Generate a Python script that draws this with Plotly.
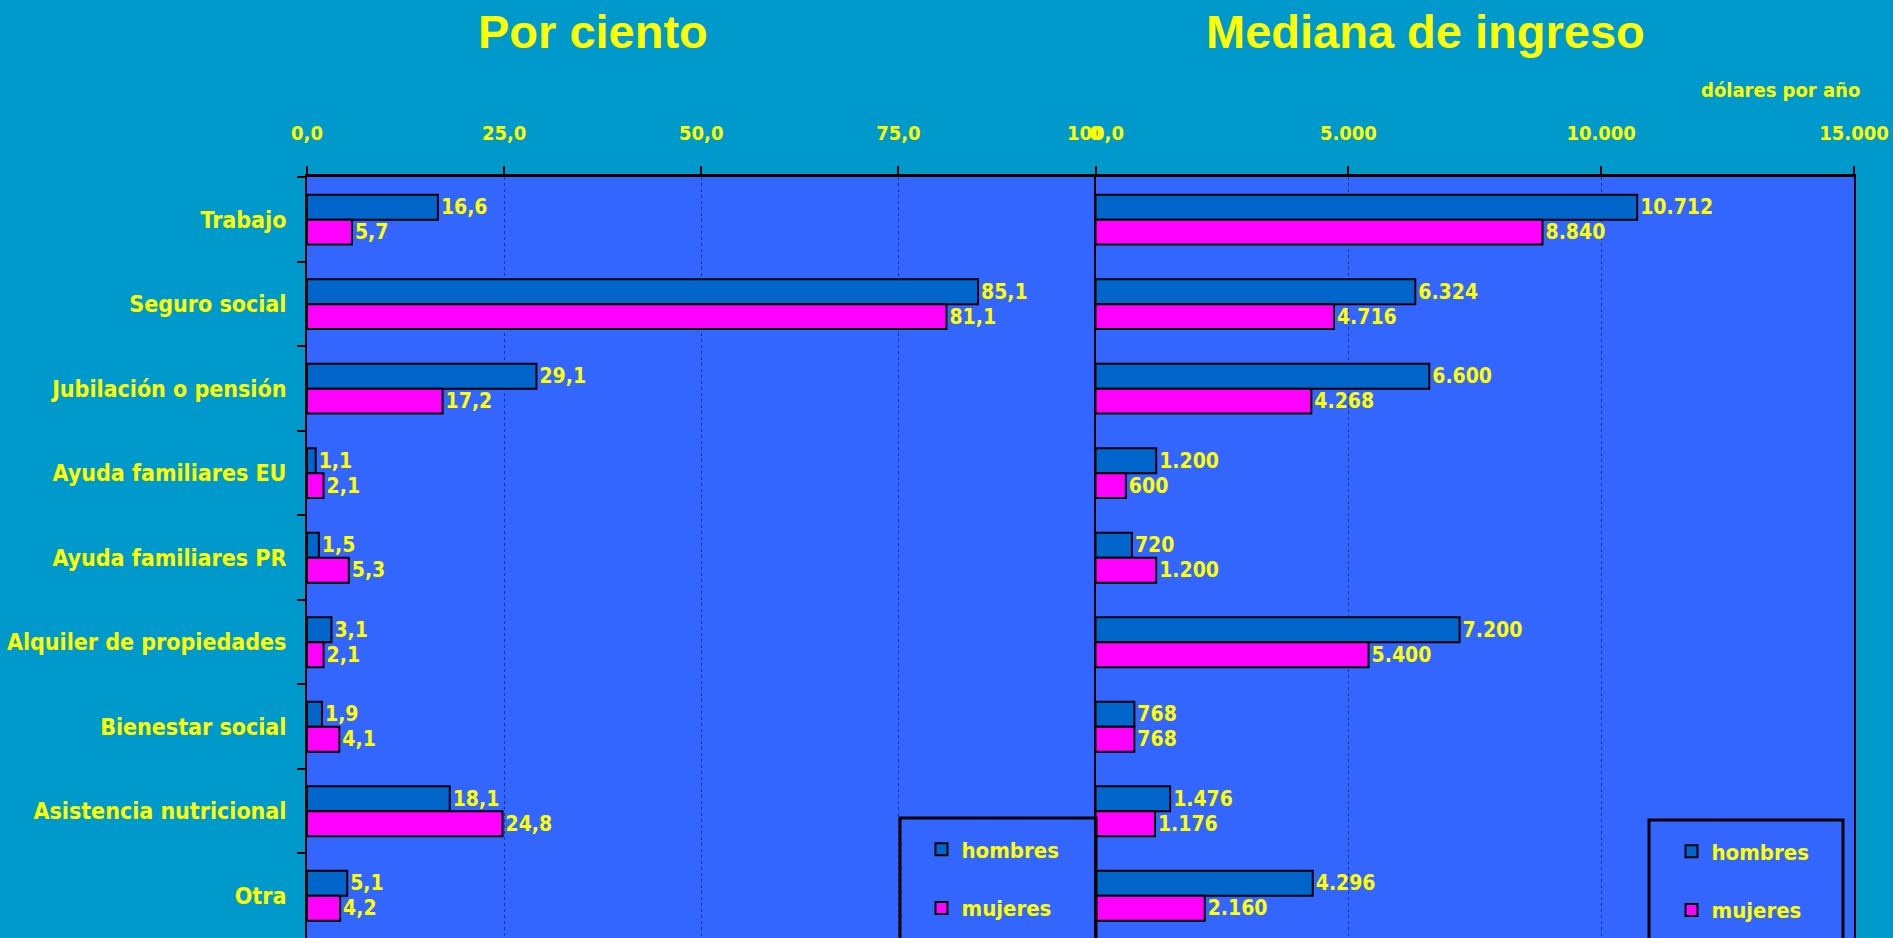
import plotly.graph_objects as go

categorias = ["Trabajo", "Seguro social", "Jubilación o pensión", "Ayuda familiares EU",
              "Ayuda familiares PR", "Alquiler de propiedades", "Bienestar social",
              "Asistencia nutricional", "Otra"]
pct_hombres = [16.6, 85.1, 29.1, 1.1, 1.5, 3.1, 1.9, 18.1, 5.1]
pct_mujeres = [5.7, 81.1, 17.2, 2.1, 5.3, 2.1, 4.1, 24.8, 4.2]
ing_hombres = [10712, 6324, 6600, 1200, 720, 7200, 768, 1476, 4296]
ing_mujeres = [8840, 4716, 4268, 600, 1200, 5400, 768, 1176, 2160]
ticks_pct = [0, 25, 50, 75, 100]
ticks_ing = [0, 5000, 10000, 15000]

W, H = 1893, 938
BG = "#0099CC"
PLOT_BG = "#3366FF"
C_H = "#0066CC"
C_M = "#FF00FF"
YEL = "#FFFF00"
NARROW = "Liberation Sans Narrow, Arial Narrow, DejaVu Sans Condensed, sans-serif"
WIDE = "Liberation Sans, Arial, sans-serif"

def px(x):
    return x / W

def py(y):
    return 1 - y / H

fig = go.Figure()

lbl_font = dict(family=NARROW, size=21, color=YEL, weight="bold")

def bar(x, name, color, fmt, xa, ya, leg, grp):
    return go.Bar(y=categorias, x=x, orientation="h", name=name,
                  marker=dict(color=color, line=dict(color="black", width=2)),
                  texttemplate=fmt, textposition="outside", textfont=lbl_font,
                  constraintext="none", cliponaxis=False,
                  xaxis=xa, yaxis=ya, legend=leg, legendgroup=grp)

fig.add_trace(bar(pct_hombres, "hombres", C_H, "%{x:.1f}", "x", "y", "legend", "h1"))
fig.add_trace(bar(pct_mujeres, "mujeres", C_M, "%{x:.1f}", "x", "y", "legend", "m1"))
fig.add_trace(bar(ing_hombres, "hombres", C_H, "%{x:,d}", "x2", "y2", "legend2", "h2"))
fig.add_trace(bar(ing_mujeres, "mujeres", C_M, "%{x:,d}", "x2", "y2", "legend2", "m2"))

tick_font = dict(family=NARROW, size=20, color=YEL, weight="bold")
ydom = [0, py(177.4)]
xd1 = [px(307), px(1095.5)]
xd2 = [px(1095.5), px(1854)]

xcommon = dict(side="top", showline=True, linecolor="black", linewidth=3,
               ticks="outside", ticklen=8, tickwidth=2, tickcolor="black",
               showgrid=True, gridcolor="#223388", griddash="dot", gridwidth=1,
               zeroline=False, tickfont=tick_font, ticklabelstandoff=18,
               automargin=False, fixedrange=True)

leg_font = dict(family=NARROW, size=22, color=YEL, weight="bold")

fig.update_layout(
    width=W, height=H,
    paper_bgcolor=BG, plot_bgcolor=PLOT_BG,
    margin=dict(l=0, r=0, t=0, b=0, autoexpand=False),
    separators=",.",
    barmode="group", bargap=0.41, bargroupgap=0,
    showlegend=True,
    xaxis=dict(domain=xd1, range=[0, 100], tickvals=ticks_pct, tickformat=".1f",
               anchor="y", **xcommon),
    xaxis2=dict(domain=xd2, range=[0, 15000], tickvals=ticks_ing, tickformat=",d",
                anchor="y2", **xcommon),
    yaxis=dict(domain=ydom, autorange="reversed", type="category",
               showline=True, linecolor="black", linewidth=2,
               ticks="outside", tickson="boundaries", ticklen=8, tickwidth=2,
               tickcolor="black", tickfont=dict(family=NARROW, size=23, color=YEL, weight="bold"),
               ticklabelstandoff=14, showgrid=False, anchor="x", automargin=False,
               fixedrange=True),
    yaxis2=dict(domain=ydom, autorange="reversed", type="category",
                showline=True, mirror=True, linecolor="black", linewidth=2,
                ticks="", showticklabels=False, showgrid=False, anchor="x2",
                automargin=False, fixedrange=True),
    legend=dict(x=px(921.5), xanchor="left", y=py(828.5), yanchor="top",
                bgcolor="rgba(0,0,0,0)", borderwidth=0, traceorder="grouped",
                tracegroupgap=27, font=leg_font),
    legend2=dict(x=px(1671.5), xanchor="left", y=py(830.5), yanchor="top",
                 bgcolor="rgba(0,0,0,0)", borderwidth=0, traceorder="grouped",
                 tracegroupgap=27, font=leg_font),
    shapes=[
        dict(type="rect", xref="paper", yref="paper", x0=px(900), x1=px(1096),
             y0=py(990), y1=py(818), line=dict(color="black", width=3), layer="above"),
        dict(type="rect", xref="paper", yref="paper", x0=px(1649), x1=px(1843),
             y0=py(990), y1=py(820), line=dict(color="black", width=3), layer="above"),
    ],
    annotations=[
        dict(text="Por ciento", xref="paper", yref="paper", x=px(593), y=py(31),
             xanchor="center", yanchor="middle", showarrow=False,
             font=dict(family=WIDE, size=47, color=YEL, weight="bold")),
        dict(text="Mediana de ingreso", xref="paper", yref="paper", x=px(1425), y=py(31),
             xanchor="center", yanchor="middle", showarrow=False,
             font=dict(family=WIDE, size=47, color=YEL, weight="bold")),
        dict(text="dólares por año", xref="paper", yref="paper", x=px(1862), y=py(90),
             xanchor="right", yanchor="middle", showarrow=False,
             font=dict(family=NARROW, size=20, color=YEL, weight="bold")),
    ],
)

fig.write_html("out.html", config={"displayModeBar": False},
               post_script="document.body.style.margin='0';document.body.style.overflow='hidden';")
